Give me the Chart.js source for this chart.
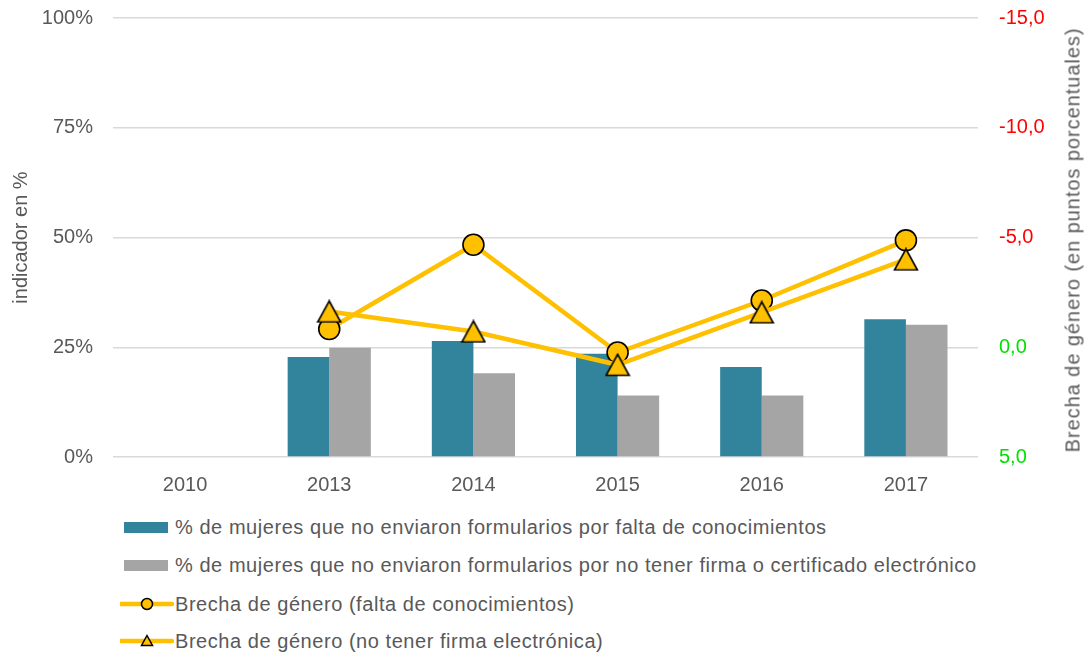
<!DOCTYPE html>
<html>
<head>
<meta charset="utf-8">
<script src="https://cdn.jsdelivr.net/npm/chart.js@4"></script>
<style>
  body { margin: 0; background: #fff; font-family: "Liberation Sans", Arial, sans-serif; color: #595959; }
  #wrap { position: relative; width: 1091px; height: 657px; }
  #chart { position: absolute; left: 0; top: 0; }
  #right-title { position: absolute; left: 1073px; top: 240px; transform: translate(-50%, -50%) rotate(-90deg);
    white-space: nowrap; font-size: 20px; letter-spacing: 0.95px; }
  .leg { position: absolute; left: 120px; height: 30px; display: flex; align-items: center; font-size: 20px;
    letter-spacing: 0.55px; white-space: nowrap; }
  .leg svg { margin-right: 1px; }
</style>
</head>
<body>
<div id="wrap">
  <canvas id="chart" width="1091" height="500"></canvas>
  <div id="right-title">Brecha de género (en puntos porcentuales)</div>
  <div id="legend"></div>
</div>
<script>
// data
const years = ['2010', '2013', '2014', '2015', '2016', '2017'];
const sin_conocimientos = [null, 22.8, 26.4, 23.5, 20.5, 31.4];
const sin_firma = [null, 24.9, 19.1, 14.0, 14.0, 30.1];
const brecha_conocimientos = [null, -0.83, -4.67, 0.24, -2.13, -4.87];
const brecha_firma = [null, -1.63, -0.72, 0.80, -1.59, -4.0];

const series_labels = [
    '% de mujeres que no enviaron formularios por falta de conocimientos',
    '% de mujeres que no enviaron formularios por no tener firma o certificado electrónico',
    'Brecha de género (falta de conocimientos)',
    'Brecha de género (no tener firma electrónica)'
];

const teal = '#31849B';
const grey = '#A5A5A5';
const gold = '#FFC000';
const text_grey = '#595959';
const font_family = '"Liberation Sans", Arial, sans-serif';

// triangle marker centred on its box, like the spreadsheet draws it
function make_triangle(){
    let c = document.createElement('canvas');
    c.width = 26; c.height = 24;
    let g = c.getContext('2d');
    g.beginPath();
    g.moveTo(13, 1.5);
    g.lineTo(24.5, 22.5);
    g.lineTo(1.5, 22.5);
    g.closePath();
    g.fillStyle = gold;
    g.fill();
    g.lineWidth = 1.6;
    g.strokeStyle = '#000';
    g.stroke();
    return c;
}
const triangle = make_triangle();

// fixed side axis width, and no extra padding above/below the plot
function fix_width(w){
    return scale => {
        scale.width = w;
        scale.paddingTop = 0;
        scale.paddingBottom = 0;
    };
}

let ctx = document.getElementById('chart');
let chart = new Chart(ctx, {
    type: 'bar',
    data: {
        labels: years,
        datasets: [
            {
                type: 'line',
                label: series_labels[3],
                data: brecha_firma,
                yAxisID: 'y1',
                borderColor: gold,
                borderWidth: 4.5,
                pointStyle: triangle,
                pointRadius: 12,
                order: 0
            },
            {
                type: 'line',
                label: series_labels[2],
                data: brecha_conocimientos,
                yAxisID: 'y1',
                borderColor: gold,
                borderWidth: 4.5,
                pointStyle: 'circle',
                pointRadius: 10.5,
                pointBackgroundColor: gold,
                pointBorderColor: '#000',
                pointBorderWidth: 1.6,
                order: 1
            },
            {
                label: series_labels[0],
                data: sin_conocimientos,
                backgroundColor: teal,
                yAxisID: 'y',
                order: 2
            },
            {
                label: series_labels[1],
                data: sin_firma,
                backgroundColor: grey,
                yAxisID: 'y',
                order: 2
            }
        ]
    },
    options: {
        responsive: false,
        animation: false,
        categoryPercentage: 0.577,
        barPercentage: 1,
        layout: { padding: { top: 18, left: 0, right: 0, bottom: 0 } },
        plugins: {
            legend: { display: false },
            tooltip: { enabled: false }
        },
        scales: {
            x: {
                grid: { display: false },
                border: { display: false },
                ticks: { color: text_grey, font: { family: font_family, size: 20 }, padding: 8 },
                afterFit: scale => { scale.height = 43; }
            },
            y: {
                position: 'left',
                min: 0,
                max: 100,
                ticks: {
                    stepSize: 25,
                    color: text_grey,
                    padding: 20,
                    font: { family: font_family, size: 20 },
                    callback: v => v + '%'
                },
                grid: { color: '#D9D9D9', lineWidth: 1.5, drawTicks: false },
                border: { display: false },
                title: {
                    display: true,
                    text: 'indicador en %',
                    color: text_grey,
                    font: { family: font_family, size: 20 },
                    padding: { top: 9, bottom: 0 }
                },
                afterFit: fix_width(113)
            },
            y1: {
                position: 'right',
                reverse: true,
                min: -15,
                max: 5,
                ticks: {
                    stepSize: 5,
                    padding: 21,
                    font: { family: font_family, size: 20 },
                    color: c => c.tick && c.tick.value < 0 ? '#FF0000' : '#00E000',
                    callback: v => v.toFixed(1).replace('.', ',')
                },
                grid: { display: false, drawTicks: false },
                border: { display: false },
                afterFit: fix_width(113)
            }
        }
    }
});

// legend, one entry per row
function add_legend(){
    let legend = document.getElementById('legend');
    let rows = [
        { y: 512, kind: 'bar', color: teal },
        { y: 550, kind: 'bar', color: grey },
        { y: 589, kind: 'circle' },
        { y: 626, kind: 'triangle' }
    ];
    rows.forEach((row, i) => {
        let div = document.createElement('div');
        div.className = 'leg';
        div.style.top = row.y + 'px';
        let svg;
        if (row.kind === 'bar') {
            svg = `<svg width="54" height="30"><rect x="4" y="10" width="44" height="11" fill="${row.color}"/></svg>`;
        } else {
            let marker = row.kind === 'circle'
                ? `<circle cx="27" cy="15" r="5.5" fill="${gold}" stroke="#000" stroke-width="1.5"/>`
                : `<polygon points="27,9.5 32.5,19.5 21.5,19.5" fill="${gold}" stroke="#000" stroke-width="1.5"/>`;
            svg = `<svg width="54" height="30"><line x1="1" y1="15" x2="52" y2="15" stroke="${gold}" stroke-width="4.5" stroke-linecap="round"/>${marker}</svg>`;
        }
        div.innerHTML = svg + '<span>' + series_labels[i] + '</span>';
        legend.appendChild(div);
    });
}
add_legend();
</script>
</body>
</html>
